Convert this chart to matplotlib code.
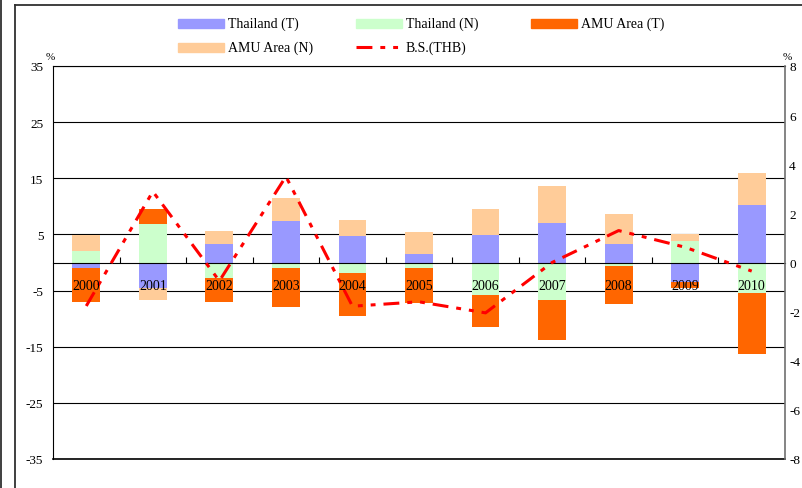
import numpy as np
import matplotlib.pyplot as plt
from matplotlib.lines import Line2D
from matplotlib.patches import Rectangle

plt.rcParams['font.family'] = ['Liberation Serif', 'DejaVu Serif']
plt.rcParams['axes.unicode_minus'] = False

years = ['2000', '2001', '2002', '2003', '2004', '2005',
         '2006', '2007', '2008', '2009', '2010']
# contributions, % (left axis)
thai_t = [-0.9, -4.6, 3.25, 7.4, 4.75, 1.5, 4.9, 7.1, 3.25, -3.5, 10.2]
thai_n = [2.1, 6.8, -2.8, -1.05, -1.8, -1.05, -5.75, -6.7, -0.6, 3.75, -5.4]
amu_t = [-6.05, 2.7, -4.15, -6.8, -7.7, -6.1, -5.7, -7.1, -6.75, -1.05, -10.9]
amu_n = [2.8, -2.05, 2.35, 4.05, 2.8, 3.95, 4.6, 6.55, 5.3, 1.4, 5.8]
# B.S. (THB), % (right axis)
bs_thb = [-1.77, 2.89, -0.75, 3.5, -1.78, -1.6, -2.05, 0.0, 1.3, 0.62, -0.35]

series = [
    ('Thailand (T)', thai_t, '#9999FF'),
    ('Thailand (N)', thai_n, '#CCFFCC'),
    ('AMU Area (T)', amu_t, '#FF6600'),
    ('AMU Area (N)', amu_n, '#FFCC99'),
]

W, H = 803, 489
fig = plt.figure(figsize=(W / 100, H / 100), dpi=100)
ax = fig.add_axes([53 / W, (H - 460) / H, 732 / W, 393 / H])

x = np.arange(len(years))
pos = np.zeros(len(years))
neg = np.zeros(len(years))
for name, vals, col in series:
    v = np.array(vals)
    base = np.where(v >= 0, pos, neg)
    ax.bar(x, v, bottom=base, width=0.417, color=col, label=name, zorder=2)
    pos += np.where(v >= 0, v, 0)
    neg += np.where(v < 0, v, 0)

ax.set_xlim(-0.5, len(years) - 0.5)
ax.set_ylim(-35, 35)
ax.set_yticks(range(-35, 36, 10))
ax.yaxis.grid(True, color='black', lw=0.8)
ax.set_axisbelow(True)
ax.axhline(-35, color='black', lw=1.2, clip_on=False)
ax.tick_params(axis='y', length=0, pad=7, labelsize=9.5)

# category axis crosses at zero, tick marks between years
ax.spines['bottom'].set_position(('data', 0))
ax.spines['bottom'].set_zorder(3)
ax.set_xticks(x[:-1] + 0.5)
ax.tick_params(axis='x', direction='in', length=4, width=0.8, labelbottom=False)
ax.spines['left'].set_color('black')
ax.spines['top'].set_color('black')
ax.spines['right'].set_visible(False)

ax2 = ax.twinx()
ax2.plot(x, bs_thb, color='#FF0000', lw=2.2, dashes=(5.2, 2.6, 1.6, 2.6, 1.6, 2.6),
         zorder=3)
ax2.set_ylim(-8, 8)
ax2.set_yticks(range(-8, 9, 2))
ax2.tick_params(axis='y', length=0, pad=3, labelsize=9.5)
for s in ['left', 'top', 'bottom']:
    ax2.spines[s].set_visible(False)
ax2.spines['right'].set_color('#707070')
ax2.spines['right'].set_linewidth(1.2)

for i, yr in enumerate(years):
    ax2.text(i, -4.17, yr, transform=ax.transData, ha='center', va='center',
             fontsize=10, zorder=5)

fig.text(50 / W, 1 - 58 / H, '%', fontsize=8, ha='center', va='center')
fig.text(787 / W, 1 - 58 / H, '%', fontsize=8, ha='center', va='center')


def px(xp, yp):
    return xp / W, 1 - yp / H


# legend laid out in two rows of three
slots = [(178, 24), (356, 24), (531, 24), (178, 48), (356, 48)]
for (name, vals, col), (lx, ly) in zip(series, slots):
    fig.add_artist(Rectangle(px(lx, ly + 4.5), 46 / W, 9 / H, color=col,
                             transform=fig.transFigure))
    fig.text(*px(lx + 50, ly), name, fontsize=10, va='center')
lx, ly = slots[4]
fig.add_artist(Line2D([lx / W, (lx + 45) / W], [1 - ly / H] * 2, color='#FF0000',
                      lw=2.2, dashes=(5.2, 2.6, 1.6, 2.6, 1.6, 2.6),
                      transform=fig.transFigure))
fig.text(*px(lx + 50, ly), 'B.S.(THB)', fontsize=10, va='center')

# chart frame
frame = dict(color='#303030', lw=1.3, transform=fig.transFigure)
fig.add_artist(Line2D([1.5 / W] * 2, [0, 1], **frame))
fig.add_artist(Line2D([15 / W] * 2, [0, 1 - 6 / H], **frame))
fig.add_artist(Line2D([15 / W, 1], [1 - 6 / H] * 2, **frame))

fig.savefig('out.png', dpi=100)
